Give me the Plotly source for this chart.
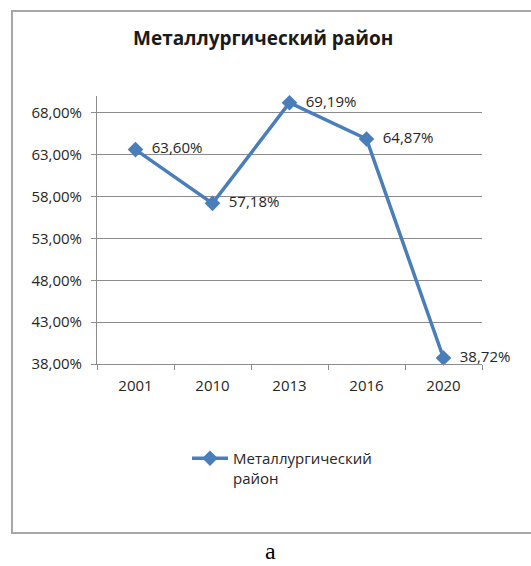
import plotly.graph_objects as go

years = ["2001", "2010", "2013", "2016", "2020"]
values = [63.60, 57.18, 69.19, 64.87, 38.72]
series_name = "Металлургический район"
y_ticks = [38, 43, 48, 53, 58, 63, 68]
y_tick_labels = ["38,00%", "43,00%", "48,00%", "53,00%", "58,00%", "63,00%", "68,00%"]

W, H = 531, 566
L, R, T, B = 97, 482, 96, 364  # plot area in px

def px(x):
    return (x - L) / (R - L)

def py(y):
    return (B - y) / (B - T)

FONT = "Open Sans"
TXT = "#262626"
GRID = "#8c8c8c"
BLUE = "#4a7ebb"

fig = go.Figure()
fig.add_trace(go.Scatter(
    x=years, y=values, mode="lines+markers+text",
    name="Металлургический<br>район",
    line=dict(color=BLUE, width=3.5),
    marker=dict(symbol="diamond", size=12, color=BLUE),
    texttemplate="  %{y:.2f}%", textposition="middle right",
    textfont=dict(family=FONT, size=15, color=TXT),
    cliponaxis=False,
))

fig.update_layout(
    width=W, height=H,
    margin=dict(l=L, r=W - R, t=T, b=H - B, pad=0),
    paper_bgcolor="white", plot_bgcolor="white",
    separators=", ",
    font=dict(family=FONT, size=15, color=TXT),
    showlegend=True,
    legend=dict(x=px(187), y=py(442), xanchor="left", yanchor="top",
                valign="top", font=dict(family=FONT, size=15, color=TXT),
                bgcolor="rgba(0,0,0,0)", tracegroupgap=0, itemwidth=36),
    xaxis=dict(type="category", range=[-0.5, len(years) - 0.5], autorange=False,
               showgrid=False, showline=True, linecolor=GRID,
               linewidth=1, ticks="outside", ticklen=5, tickcolor=GRID,
               tickson="boundaries", tickfont=dict(family=FONT, size=15, color=TXT),
               ticklabelstandoff=8, fixedrange=True),
    yaxis=dict(range=[38, 70], autorange=False, tickvals=y_ticks, ticktext=y_tick_labels,
               showgrid=True, gridcolor=GRID, gridwidth=1, showline=True,
               linecolor=GRID, linewidth=1, ticks="outside", ticklen=5,
               tickcolor=GRID, zeroline=False, ticklabelstandoff=6,
               tickfont=dict(family=FONT, size=15, color=TXT), fixedrange=True),
)

# outer chart border
fig.add_shape(type="rect", xref="paper", yref="paper",
              x0=px(12), x1=px(540), y0=py(533), y1=py(11),
              line=dict(color="#a6a6a6", width=2), layer="below")

# title
fig.add_annotation(text="<b>" + series_name + "</b>", xref="paper", yref="paper",
                   x=px(263), y=py(38), xanchor="center", yanchor="middle",
                   showarrow=False, font=dict(family=FONT, size=19, color="#1a1a1a"))

# caption
fig.add_annotation(text="a", xref="paper", yref="paper",
                   x=px(270), y=py(551), xanchor="center", yanchor="middle",
                   showarrow=False, font=dict(family="Liberation Serif", size=24, color="#000"))

fig.write_html("out.html", config={"displayModeBar": False},
               post_script="document.body.style.margin='0';document.body.style.overflow='hidden';")
